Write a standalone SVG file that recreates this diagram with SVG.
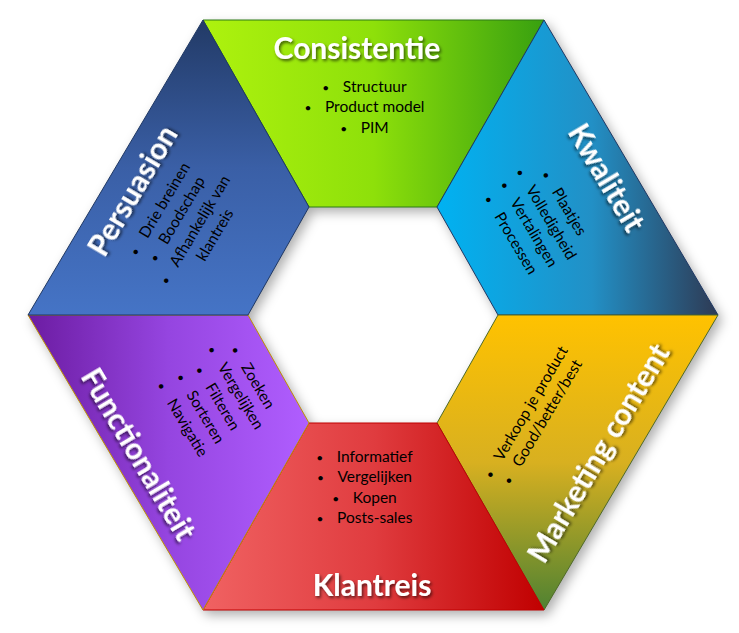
<svg xmlns="http://www.w3.org/2000/svg" width="739" height="633" viewBox="0 0 739 633">
<defs>
<linearGradient id="gGreen" x1="0" y1="0" x2="1" y2="0"><stop offset="0" stop-color="#aef20e"/><stop offset="0.5" stop-color="#8ee00a"/><stop offset="1" stop-color="#38a010"/></linearGradient>
<linearGradient id="gKwal" x1="0" y1="0" x2="1" y2="0"><stop offset="0" stop-color="#00b2f2"/><stop offset="0.55" stop-color="#2290c6"/><stop offset="1" stop-color="#2e3a54"/></linearGradient>
<linearGradient id="gMark" x1="0" y1="0" x2="0" y2="1"><stop offset="0" stop-color="#ffc200"/><stop offset="0.5" stop-color="#d8b020"/><stop offset="1" stop-color="#4f8232"/></linearGradient>
<linearGradient id="gRed" x1="0" y1="0" x2="1" y2="0"><stop offset="0" stop-color="#f06262"/><stop offset="0.5" stop-color="#e03c3f"/><stop offset="1" stop-color="#c00000"/></linearGradient>
<linearGradient id="gPurple" x1="0" y1="0" x2="1" y2="0"><stop offset="0" stop-color="#6c1ca2"/><stop offset="0.5" stop-color="#9545e0"/><stop offset="1" stop-color="#b05eff"/></linearGradient>
<linearGradient id="gPers" x1="0" y1="0" x2="0" y2="1"><stop offset="0" stop-color="#223a66"/><stop offset="0.5" stop-color="#3a5fa6"/><stop offset="1" stop-color="#4574c6"/></linearGradient>
<filter id="shadow" x="-10%" y="-10%" width="120%" height="120%"><feGaussianBlur stdDeviation="6"/></filter>
<filter id="tshadow" x="-10%" y="-30%" width="120%" height="160%"><feDropShadow dx="1.5" dy="2" stdDeviation="1.5" flood-color="#000" flood-opacity="0.6"/></filter>
</defs>
<style>
.title{font-family:Lato,"Open Sans","Liberation Sans",sans-serif;font-weight:700;font-size:30px;fill:#fff;text-anchor:middle;filter:url(#tshadow)}
.item{font-family:Lato,"Open Sans","Liberation Sans",sans-serif;font-size:15.5px;fill:#000;text-anchor:middle}
.b{font-size:12px}
.panel{stroke-width:1}
</style>
<path d="M203,20 L544,20 L718,315 L544,610 L203,610 L28,315 Z M309,207 L248,315 L309,423 L437,423 L498,315 L437,207 Z" fill="#000" fill-opacity="0.32" fill-rule="evenodd" transform="translate(4,5)" filter="url(#shadow)"/>
<g id="consistentie">
<polygon class="panel" points="203,20 544,20 437,207 309,207" fill="url(#gGreen)" stroke="#2f7d16"/>
<text class="title" x="357" y="59">Consistentie</text>
<text class="item" x="364.5" y="92"><tspan class="b">•</tspan><tspan dx="13.5">Structuur</tspan></text>
<text class="item" x="364.5" y="112"><tspan class="b">•</tspan><tspan dx="13.5">Product model</tspan></text>
<text class="item" x="364.5" y="133"><tspan class="b">•</tspan><tspan dx="13.5">PIM</tspan></text>
</g>
<g id="kwaliteit">
<polygon class="panel" points="544,20 718,315 498,315 437,207" fill="url(#gKwal)" stroke="#1f3864"/>
<g transform="translate(606,178) rotate(59.3)">
<text class="title" x="0" y="10">Kwaliteit</text>
<text class="item" x="0" y="54"><tspan class="b">•</tspan><tspan dx="13.5">Plaatjes</tspan></text>
<text class="item" x="0" y="75"><tspan class="b">•</tspan><tspan dx="13.5">Volledigheid</tspan></text>
<text class="item" x="0" y="95"><tspan class="b">•</tspan><tspan dx="13.5">Vertalingen</tspan></text>
<text class="item" x="0" y="116"><tspan class="b">•</tspan><tspan dx="13.5">Processen</tspan></text>
</g>
</g>
<g id="marketing-content">
<polygon class="panel" points="498,315 718,315 544,610 437,423" fill="url(#gMark)" stroke="#4f6a28"/>
<g transform="translate(599,453.5) rotate(-59.3)">
<text class="title" x="0" y="10">Marketing content</text>
<text class="item" x="-2" y="-79"><tspan class="b">•</tspan><tspan dx="13.5">Verkoop je product</tspan></text>
<text class="item" x="-2" y="-60"><tspan class="b">•</tspan><tspan dx="13.5">Good/better/best</tspan></text>
</g>
</g>
<g id="klantreis">
<polygon class="panel" points="309,423 437,423 544,610 203,610" fill="url(#gRed)" stroke="#c00000"/>
<text class="title" x="372" y="596">Klantreis</text>
<text class="item" x="364.5" y="462"><tspan class="b">•</tspan><tspan dx="13.5">Informatief</tspan></text>
<text class="item" x="364.5" y="482"><tspan class="b">•</tspan><tspan dx="13.5">Vergelijken</tspan></text>
<text class="item" x="364.5" y="503"><tspan class="b">•</tspan><tspan dx="13.5">Kopen</tspan></text>
<text class="item" x="364.5" y="523"><tspan class="b">•</tspan><tspan dx="13.5">Posts-sales</tspan></text>
</g>
<g id="functionaliteit">
<polygon class="panel" points="28,315 248,315 309,423 203,610" fill="url(#gPurple)" stroke="#bf9000"/>
<g transform="translate(138,454.5) rotate(59.3)">
<text class="title" x="0" y="10">Functionaliteit</text>
<text class="item" x="-8" y="-133"><tspan class="b">•</tspan><tspan dx="13.5">Zoeken</tspan></text>
<text class="item" x="-8" y="-113"><tspan class="b">•</tspan><tspan dx="13.5">Vergelijken</tspan></text>
<text class="item" x="-8" y="-92"><tspan class="b">•</tspan><tspan dx="13.5">Filteren</tspan></text>
<text class="item" x="-8" y="-72"><tspan class="b">•</tspan><tspan dx="13.5">Sorteren</tspan></text>
<text class="item" x="-8" y="-51"><tspan class="b">•</tspan><tspan dx="13.5">Navigatie</tspan></text>
</g>
</g>
<g id="persuasion">
<polygon class="panel" points="203,20 309,207 248,315 28,315" fill="url(#gPers)" stroke="#1f3864"/>
<g transform="translate(133,191) rotate(-59.3)">
<text class="title" x="0" y="10">Persuasion</text>
<text class="item" x="-2" y="37"><tspan class="b">•</tspan><tspan dx="13.5">Drie breinen</tspan></text>
<text class="item" x="-2" y="57"><tspan class="b">•</tspan><tspan dx="13.5">Boodschap</tspan></text>
<text class="item" x="-2" y="78"><tspan class="b">•</tspan><tspan dx="13.5">Afhankelijk van</tspan></text>
<text class="item" x="4" y="98">klantreis</text>
</g>
</g>
<g id="connectors"/>
</svg>
